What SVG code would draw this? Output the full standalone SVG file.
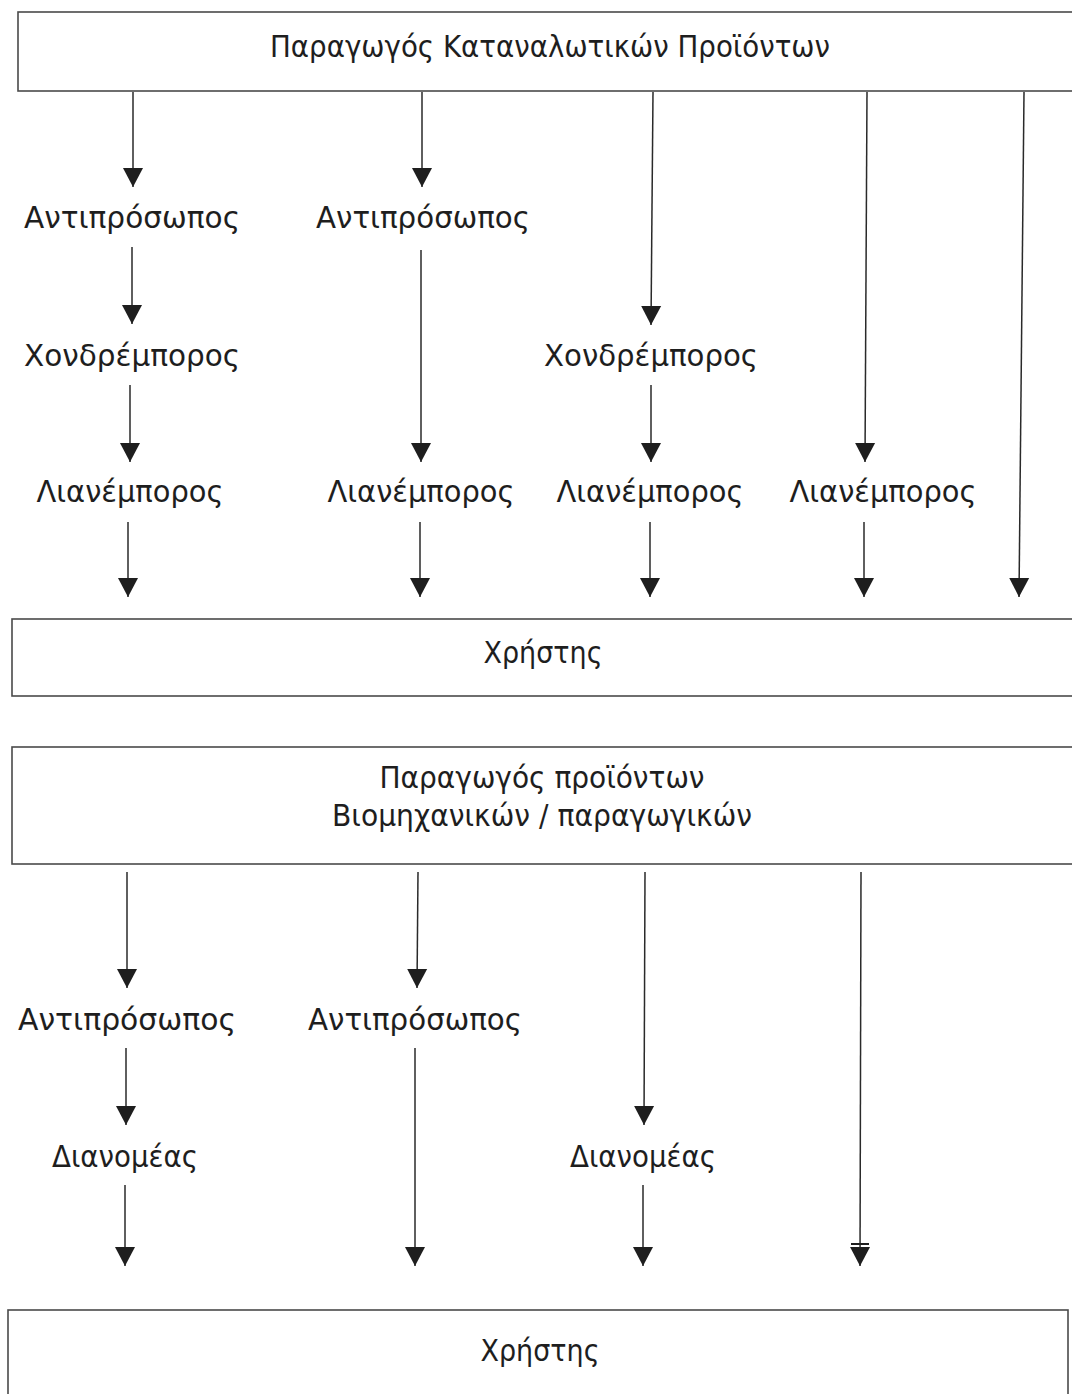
<svg xmlns="http://www.w3.org/2000/svg" width="1072" height="1394" viewBox="0 0 1072 1394">
  <defs>
    <marker id="arrow" markerUnits="userSpaceOnUse" markerWidth="20" markerHeight="22" viewBox="0 -11 20 22" refX="19" refY="0" orient="auto">
      <path d="M0,-10 L19,0 L0,10 Z" fill="#1e1e1e"/>
    </marker>
  </defs>
  <style>
    .box { fill: #ffffff; stroke: #4a4a4a; stroke-width: 1.6; }
    .edge { fill: none; stroke: #2a2a2a; stroke-width: 1.5; marker-end: url(#arrow); }
    .bar { stroke: #1e1e1e; stroke-width: 2; }
    text { font-family: "DejaVu Sans", "Open Sans", sans-serif; font-size: 31px; fill: #1e1e1e; text-anchor: middle; }
  </style>
  <rect width="1072" height="1394" fill="#ffffff"/>

  <!-- upper chart: consumer goods -->
  <g id="producer-consumer">
    <rect class="box" x="18" y="12" width="1070" height="79"/>
    <text x="550" y="57" textLength="560" lengthAdjust="spacingAndGlyphs">Παραγωγός Καταναλωτικών Προϊόντων</text>
  </g>
  <g id="agent-1"><text x="132" y="228" textLength="216" lengthAdjust="spacingAndGlyphs">Αντιπρόσωπος</text></g>
  <g id="agent-2"><text x="423" y="228" textLength="214" lengthAdjust="spacingAndGlyphs">Αντιπρόσωπος</text></g>
  <g id="wholesaler-1"><text x="132" y="366" textLength="216" lengthAdjust="spacingAndGlyphs">Χονδρέμπορος</text></g>
  <g id="wholesaler-3"><text x="651" y="366" textLength="214" lengthAdjust="spacingAndGlyphs">Χονδρέμπορος</text></g>
  <g id="retailer-1"><text x="130" y="502" textLength="187" lengthAdjust="spacingAndGlyphs">Λιανέμπορος</text></g>
  <g id="retailer-2"><text x="421" y="502" textLength="187" lengthAdjust="spacingAndGlyphs">Λιανέμπορος</text></g>
  <g id="retailer-3"><text x="650" y="502" textLength="187" lengthAdjust="spacingAndGlyphs">Λιανέμπορος</text></g>
  <g id="retailer-4"><text x="883" y="502" textLength="187" lengthAdjust="spacingAndGlyphs">Λιανέμπορος</text></g>
  <g id="user-consumer">
    <rect class="box" x="12" y="619" width="1076" height="77"/>
    <text x="543" y="663" textLength="119" lengthAdjust="spacingAndGlyphs">Χρήστης</text>
  </g>

  <!-- lower chart: industrial goods -->
  <g id="producer-industrial">
    <rect class="box" x="12" y="747" width="1076" height="117"/>
    <text x="542" y="788" textLength="325" lengthAdjust="spacingAndGlyphs">Παραγωγός προϊόντων</text>
    <text x="542" y="826" textLength="420" lengthAdjust="spacingAndGlyphs">Βιομηχανικών / παραγωγικών</text>
  </g>
  <g id="agent-b1"><text x="127" y="1030" textLength="218" lengthAdjust="spacingAndGlyphs">Αντιπρόσωπος</text></g>
  <g id="agent-b2"><text x="415" y="1030" textLength="214" lengthAdjust="spacingAndGlyphs">Αντιπρόσωπος</text></g>
  <g id="distributor-b1"><text x="125" y="1167" textLength="146" lengthAdjust="spacingAndGlyphs">Διανομέας</text></g>
  <g id="distributor-b3"><text x="643" y="1167" textLength="146" lengthAdjust="spacingAndGlyphs">Διανομέας</text></g>
  <g id="user-industrial">
    <rect class="box" x="8" y="1310" width="1060" height="100"/>
    <text x="540" y="1361" textLength="119" lengthAdjust="spacingAndGlyphs">Χρήστης</text>
  </g>

  <g id="connectors">
    <!-- upper chart -->
    <path class="edge" d="M133,92 L133,187"/>
    <path class="edge" d="M132,247 L132,324"/>
    <path class="edge" d="M130,385 L130,462"/>
    <path class="edge" d="M128,522 L128,597"/>
    <path class="edge" d="M422,92 L422,187"/>
    <path class="edge" d="M421,250 L421,462"/>
    <path class="edge" d="M420,522 L420,597"/>
    <path class="edge" d="M653,92 L651,325"/>
    <path class="edge" d="M651,385 L651,462"/>
    <path class="edge" d="M650,522 L650,597"/>
    <path class="edge" d="M867,92 L865,462"/>
    <path class="edge" d="M864,522 L864,597"/>
    <path class="edge" d="M1024,92 L1019,597"/>
    <!-- lower chart -->
    <path class="edge" d="M127,872 L127,988"/>
    <path class="edge" d="M126,1048 L126,1125"/>
    <path class="edge" d="M125,1185 L125,1266"/>
    <path class="edge" d="M418,872 L417,988"/>
    <path class="edge" d="M415,1048 L415,1266"/>
    <path class="edge" d="M645,872 L644,1125"/>
    <path class="edge" d="M643,1185 L643,1266"/>
    <path class="edge" d="M861,872 L860,1266"/>
    <line class="bar" x1="851" y1="1244" x2="869" y2="1244"/>
  </g>
</svg>
